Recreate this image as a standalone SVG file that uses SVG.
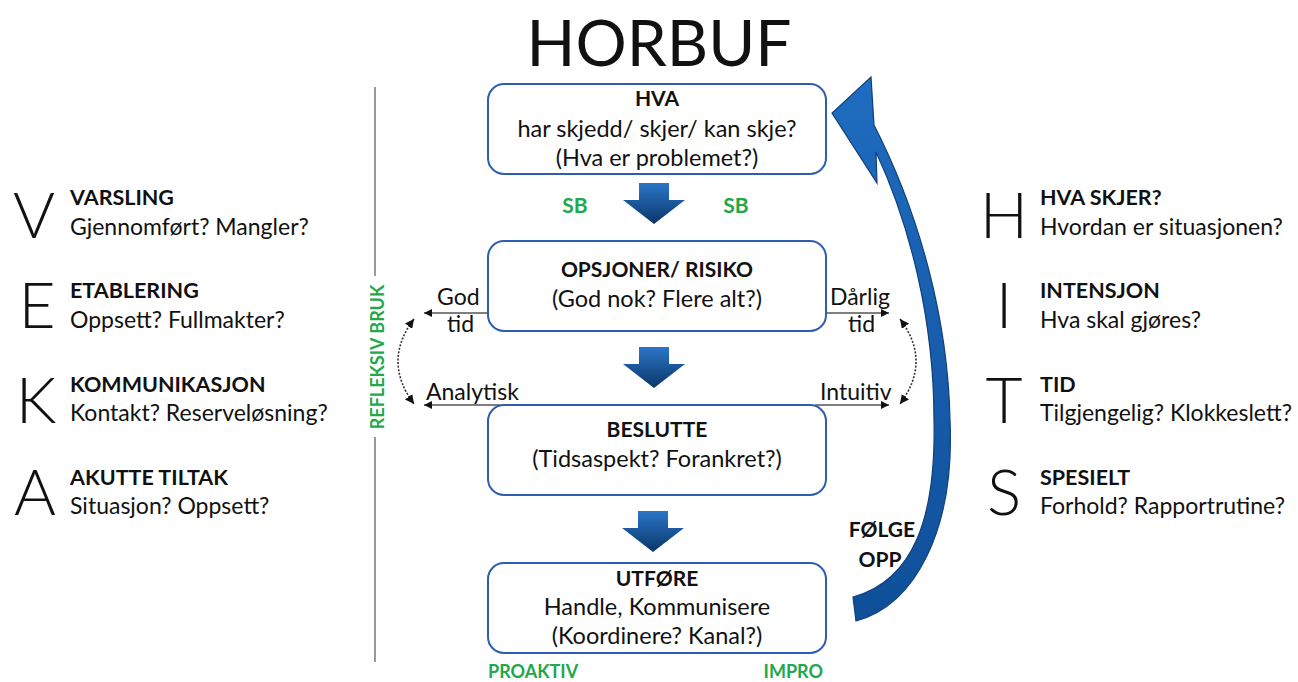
<svg xmlns="http://www.w3.org/2000/svg" width="1298" height="682" viewBox="0 0 1298 682">
<defs>
<linearGradient id="gBlue" x1="0" y1="0" x2="0" y2="1">
<stop offset="0" stop-color="#2b76c8"/>
<stop offset="1" stop-color="#0a3669"/>
</linearGradient>
<linearGradient id="gArc" x1="0" y1="0" x2="0" y2="1">
<stop offset="0" stop-color="#1f6cc0"/>
<stop offset="1" stop-color="#0f4f99"/>
</linearGradient>
<path id="down" d="M -15 0 H 15 V 17 H 31 L 0 41 L -31 17 H -15 Z" fill="url(#gBlue)"/>
<marker id="ah" viewBox="0 0 10 10" refX="10" refY="5" markerWidth="8" markerHeight="8" markerUnits="userSpaceOnUse" orient="auto-start-reverse">
<path d="M0 0 L10 5 L0 10 Z" fill="#111"/>
</marker>
<marker id="ahs" viewBox="0 0 10 10" refX="10" refY="5" markerWidth="9" markerHeight="9" markerUnits="userSpaceOnUse" orient="auto-start-reverse">
<path d="M0 0 L10 5 L0 10 Z" fill="#111"/>
</marker>
</defs>
<style>
text{font-family:Lato,"Open Sans","Liberation Sans",sans-serif;fill:#111}
.t{font-size:23.5px;text-anchor:middle}
.tb{font-size:21px;font-weight:bold;text-anchor:middle}
.big{font-size:64px;font-weight:300}
.h{font-size:21.5px;font-weight:bold}
.s{font-size:23px}
.l{font-size:23px}
.g{fill:#22a84a;font-weight:bold;font-size:18px}
.f{font-size:21px;font-weight:bold;text-anchor:middle}
.box{fill:#fff;stroke:#2f5db3;stroke-width:2}
.hl{stroke:#555;stroke-width:1.6;fill:none}
.dot{stroke:#333;stroke-width:1.6;fill:none;stroke-dasharray:2 1.6}
</style>

<text x="659" y="66" style="font-size:64px;text-anchor:middle">HORBUF</text>

<line x1="375" y1="87" x2="375" y2="276" stroke="#999" stroke-width="2"/>
<line x1="375" y1="437" x2="375" y2="662" stroke="#999" stroke-width="2"/>
<text class="g" transform="translate(384 357) rotate(-90)" text-anchor="middle" style="font-size:18px">REFLEKSIV BRUK</text>

<g id="veka">
<g id="v"><text class="big" x="34" y="238" text-anchor="middle">V</text><text class="h" x="70" y="205">VARSLING</text><text class="s" x="70" y="235">Gjennomført? Mangler?</text></g>
<g id="e"><text class="big" x="37" y="328" text-anchor="middle">E</text><text class="h" x="70" y="298">ETABLERING</text><text class="s" x="70" y="328">Oppsett? Fullmakter?</text></g>
<g id="k"><text class="big" x="36" y="423" text-anchor="middle">K</text><text class="h" x="70" y="392">KOMMUNIKASJON</text><text class="s" x="70" y="421">Kontakt? Reserveløsning?</text></g>
<g id="a"><text class="big" x="35" y="515" text-anchor="middle">A</text><text class="h" x="70" y="485">AKUTTE TILTAK</text><text class="s" x="70" y="514">Situasjon? Oppsett?</text></g>
</g>

<g id="hits">
<g id="h"><text class="big" x="1004" y="238" text-anchor="middle">H</text><text class="h" x="1040" y="205">HVA SKJER?</text><text class="s" x="1040" y="235">Hvordan er situasjonen?</text></g>
<g id="i"><text class="big" x="1004" y="328" text-anchor="middle">I</text><text class="h" x="1040" y="298">INTENSJON</text><text class="s" x="1040" y="328">Hva skal gjøres?</text></g>
<g id="t"><text class="big" x="1004" y="423" text-anchor="middle">T</text><text class="h" x="1040" y="392">TID</text><text class="s" x="1040" y="421">Tilgjengelig? Klokkeslett?</text></g>
<g id="s"><text class="big" x="1004" y="515" text-anchor="middle">S</text><text class="h" x="1040" y="485">SPESIELT</text><text class="s" x="1040" y="514">Forhold? Rapportrutine?</text></g>
</g>

<g id="connectors">
<use href="#down" transform="translate(654 183)"/>
<use href="#down" transform="translate(654 347)"/>
<use href="#down" transform="translate(653 511)"/>
<line class="hl" x1="487" y1="313" x2="424" y2="313" marker-end="url(#ah)"/>
<line class="hl" x1="826" y1="313" x2="889" y2="313" marker-end="url(#ah)"/>
<line class="hl" x1="500" y1="405" x2="424" y2="405" marker-end="url(#ah)"/>
<line class="hl" x1="815" y1="405" x2="889" y2="405" marker-end="url(#ah)"/>
<path class="dot" d="M 414 319 Q 382 361 414 404" marker-start="url(#ahs)" marker-end="url(#ahs)"/>
<path class="dot" d="M 900 319 Q 932 361 900 404" marker-start="url(#ahs)" marker-end="url(#ahs)"/>
<path id="followArc" d="M 856 621 C 915 605 955 530 950 420 C 948 320 920 215 874 125 L 871 77 L 832 113 L 877 183 L 876 152 C 910 225 934 320 934 420 C 936 515 915 580 853 597 Z" fill="url(#gArc)" stroke="#123f7a" stroke-width="1.2" stroke-linejoin="miter"/>
</g>

<text class="l" x="437" y="305">God</text>
<text class="l" x="447" y="332">tid</text>
<text class="l" x="830" y="305">Dårlig</text>
<text class="l" x="848" y="332">tid</text>
<text class="l" x="426" y="400">Analytisk</text>
<text class="l" x="820" y="400">Intuitiv</text>
<text x="575" y="213" class="g" text-anchor="middle" style="font-size:21px">SB</text>
<text x="736" y="213" class="g" text-anchor="middle" style="font-size:21px">SB</text>
<text x="488" y="678" class="g">PROAKTIV</text>
<text x="823" y="678" class="g" text-anchor="end">IMPRO</text>
<text class="f" x="882" y="537">FØLGE</text>
<text class="f" x="880" y="567">OPP</text>

<g id="n-hva">
<rect class="box" x="488" y="84" width="338" height="90" rx="16"/>
<text class="tb" x="657" y="106">HVA</text>
<text class="t" x="657" y="137">har skjedd/ skjer/ kan skje?</text>
<text class="t" x="657" y="166">(Hva er problemet?)</text>
</g>
<g id="n-opsjoner">
<rect class="box" x="488" y="241" width="338" height="90" rx="16"/>
<text class="tb" x="657" y="277">OPSJONER/ RISIKO</text>
<text class="t" x="657" y="307">(God nok? Flere alt?)</text>
</g>
<g id="n-beslutte">
<rect class="box" x="488" y="405" width="338" height="90" rx="16"/>
<text class="tb" x="657" y="437">BESLUTTE</text>
<text class="t" x="657" y="467">(Tidsaspekt? Forankret?)</text>
</g>
<g id="n-utfore">
<rect class="box" x="488" y="563" width="338" height="90" rx="16"/>
<text class="tb" x="657" y="586">UTFØRE</text>
<text class="t" x="657" y="615">Handle, Kommunisere</text>
<text class="t" x="657" y="644">(Koordinere? Kanal?)</text>
</g>
</svg>
